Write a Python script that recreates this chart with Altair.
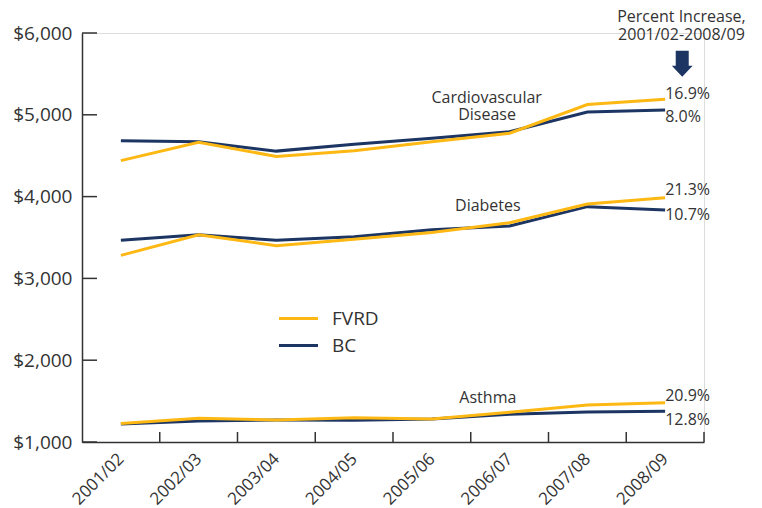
import altair as alt
import pandas as pd

years = ["2001/02", "2002/03", "2003/04", "2004/05", "2005/06", "2006/07", "2007/08", "2008/09"]
series_names = ["FVRD", "BC"]

cardio_fvrd = [4440, 4665, 4490, 4560, 4670, 4775, 5125, 5190]
cardio_bc = [4683, 4670, 4556, 4640, 4712, 4793, 5034, 5060]
diabetes_fvrd = [3282, 3534, 3400, 3478, 3562, 3681, 3910, 3985]
diabetes_bc = [3466, 3534, 3466, 3508, 3595, 3640, 3877, 3836]
asthma_fvrd = [1225, 1290, 1270, 1297, 1281, 1363, 1452, 1481]
asthma_bc = [1220, 1257, 1269, 1265, 1281, 1338, 1367, 1375]

pct_labels = ["16.9%", "8.0%", "21.3%", "10.7%", "20.9%", "12.8%"]
y_tick_values = [1000, 2000, 3000, 4000, 5000, 6000]

GOLD = "#FDB813"
NAVY = "#1C3563"
TEXT = "#333333"
AXIS = "#333333"
FONT = "Open Sans"

rows = []
for disease, fv, bc in [("Cardiovascular Disease", cardio_fvrd, cardio_bc),
                        ("Diabetes", diabetes_fvrd, diabetes_bc),
                        ("Asthma", asthma_fvrd, asthma_bc)]:
    for i, y in enumerate(years):
        rows.append({"idx": i, "year": y, "disease": disease, "series": "FVRD", "value": fv[i]})
        rows.append({"idx": i, "year": y, "disease": disease, "series": "BC", "value": bc[i]})
df = pd.DataFrame(rows)

label_expr = "[" + ",".join("'%s'" % y for y in years) + "][datum.value]"

xscale = alt.Scale(domain=[-0.5, len(years) - 0.5], nice=False, zero=False)
yscale = alt.Scale(domain=[1000, 6000], nice=False, zero=False)

x_enc = alt.X("idx:Q", scale=xscale, title=None,
              axis=alt.Axis(values=list(range(len(years))), labelExpr=label_expr,
                            labelAngle=-45, labelAlign="right", labelBaseline="middle",
                            labelPadding=14, ticks=False, tickSize=0, grid=False,
                            labelFontSize=17, labelFont=FONT, labelColor=TEXT,
                            domainColor=AXIS, domainWidth=1.5))
y_enc = alt.Y("value:Q", scale=yscale, title=None,
              axis=alt.Axis(values=y_tick_values, format="$,.0f", ticks=False, tickSize=0,
                            grid=False, labelPadding=10, labelFontSize=19, labelFont=FONT,
                            labelColor=TEXT, domainColor=AXIS, domainWidth=1.5))

color_enc = alt.Color("series:N",
                      scale=alt.Scale(domain=series_names, range=[GOLD, NAVY]),
                      legend=alt.Legend(title=None, orient="none", legendX=205, legendY=274,
                                        symbolType="M-2,0L2,0", symbolSize=380,
                                        symbolStrokeWidth=3, labelFontSize=19,
                                        labelFont=FONT, labelColor=TEXT, labelOffset=22,
                                        rowPadding=5))

base = alt.Chart(df)
bc_lines = base.transform_filter(alt.datum.series == "BC").mark_line(strokeWidth=3).encode(
    x=x_enc, y=y_enc, color=color_enc, detail="disease:N")
fv_lines = base.transform_filter(alt.datum.series == "FVRD").mark_line(strokeWidth=3).encode(
    x=x_enc, y=y_enc, color=color_enc, detail="disease:N")

ytick_df = pd.DataFrame({"value": y_tick_values})
yticks = alt.Chart(ytick_df).mark_rule(color=AXIS, strokeWidth=1.5).encode(
    y=alt.Y("value:Q", scale=yscale), x=alt.value(0), x2=alt.value(15))

xtick_df = pd.DataFrame({"idx": [i + 0.5 for i in range(len(years))]})
xticks = alt.Chart(xtick_df).mark_rule(color=AXIS, strokeWidth=1.5).encode(
    x=alt.X("idx:Q", scale=xscale), y=alt.value(399), y2=alt.value(409))

ann_df = pd.DataFrame({
    "text": ["Cardiovascular", "Disease", "Diabetes", "Asthma"],
    "idx": [4.705, 4.71, 4.72, 4.72],
    "value": [5202, 4998, 3885, 1534],
})
ann = alt.Chart(ann_df).mark_text(fontSize=16, font=FONT, color=TEXT, align="center",
                                  baseline="middle").encode(
    x=alt.X("idx:Q", scale=xscale), y=alt.Y("value:Q", scale=yscale), text="text:N")

pct_df = pd.DataFrame({
    "text": pct_labels,
    "idx": [7] * 6,
    "value": [5251, 4969, 4077, 3775, 1562, 1269],
})
pct = alt.Chart(pct_df).mark_text(fontSize=16, font=FONT, color=TEXT, align="left",
                                  baseline="middle", dx=0).encode(
    x=alt.X("idx:Q", scale=xscale), y=alt.Y("value:Q", scale=yscale), text="text:N")

head_df = pd.DataFrame({
    "text": ["Percent Increase,", "2001/02-2008/09"],
    "idx": [7.21, 7.21],
    "value": [6199, 5976],
})
head = alt.Chart(head_df).mark_text(fontSize=16, font=FONT, color=TEXT, align="center",
                                    baseline="middle").encode(
    x=alt.X("idx:Q", scale=xscale), y=alt.Y("value:Q", scale=yscale), text="text:N")

arrow_df = pd.DataFrame({"idx": [7.22], "value": [5625]})
arrow = alt.Chart(arrow_df).mark_point(
    shape="M-0.5,-1L0.5,-1L0.5,0.15L0.8,0.15L0,1L-0.8,0.15L-0.5,0.15Z",
    filled=True, color=NAVY, opacity=1, size=676, strokeWidth=0).encode(
    x=alt.X("idx:Q", scale=xscale), y=alt.Y("value:Q", scale=yscale))

chart = alt.layer(bc_lines, fv_lines, yticks, xticks, ann, pct, head, arrow).properties(
    width=622, height=409,
    padding={"left": 74, "top": 25, "right": 50, "bottom": 66},
    autosize=alt.AutoSizeParams(type="none"),
).configure_view(stroke=None).configure(background="white")

chart.save("out.html", embed_options={"renderer": "svg", "actions": False})
